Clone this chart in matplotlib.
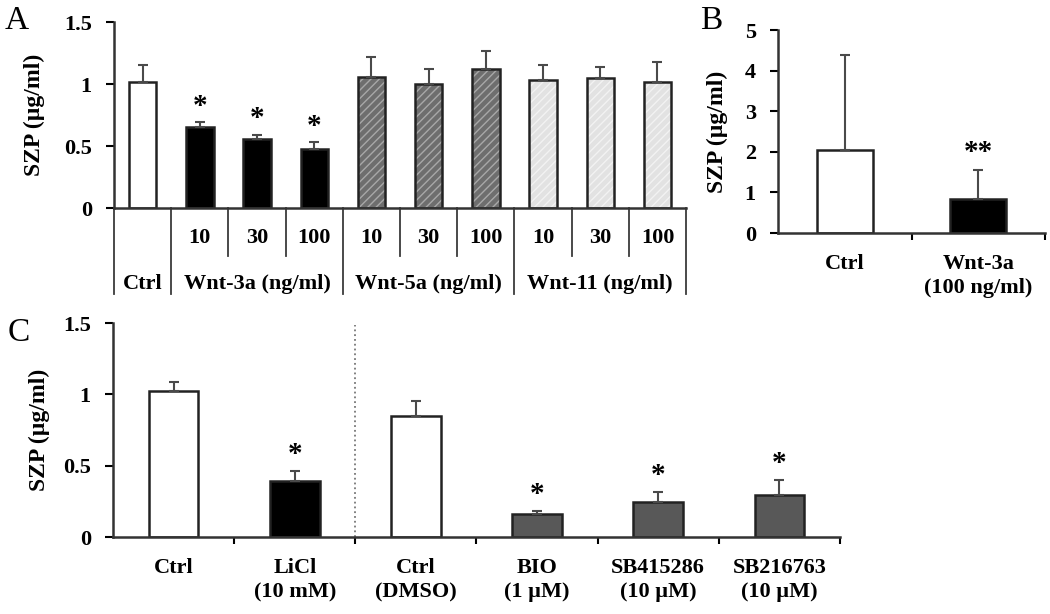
import matplotlib
matplotlib.use("Agg")
import matplotlib.pyplot as plt
from matplotlib.ticker import FormatStrFormatter
import matplotlib.transforms as mtransforms

plt.rcParams['font.family'] = ['Liberation Serif', 'DejaVu Serif']
plt.rcParams['font.weight'] = 'bold'

# panel A: Wnt ligands
a_vals = [1.02, 0.65, 0.56, 0.48, 1.06, 1.00, 1.12, 1.03, 1.05, 1.02]
a_err = [0.13, 0.04, 0.03, 0.05, 0.16, 0.12, 0.15, 0.12, 0.09, 0.16]
a_star = [False, True, True, True, False, False, False, False, False, False]
a_doses = ['', '10', '30', '100', '10', '30', '100', '10', '30', '100']
a_groups = ['Ctrl', 'Wnt-3a (ng/ml)', 'Wnt-5a (ng/ml)', 'Wnt-11 (ng/ml)']
a_group_span = [(0, 0), (1, 3), (4, 6), (7, 9)]

# panel B
b_labels = ['Ctrl', 'Wnt-3a\n(100 ng/ml)']
b_vals = [2.05, 0.85]
b_err = [2.33, 0.70]

# panel C
c_labels = ['Ctrl', 'LiCl\n(10 mM)', 'Ctrl\n(DMSO)', 'BIO\n(1 µM)',
            'SB415286\n(10 µM)', 'SB216763\n(10 µM)']
c_vals = [1.02, 0.395, 0.85, 0.158, 0.244, 0.295]
c_err = [0.07, 0.07, 0.10, 0.025, 0.07, 0.105]
c_star = [False, True, False, True, True, True]

fig = plt.figure(figsize=(10.5, 6.14), dpi=100)
errkw = dict(ecolor='#4a4a4a', elinewidth=1.5, capsize=3.5, capthick=1.5)


def style_axes(ax):
    for s in ['top', 'right']:
        ax.spines[s].set_visible(False)
    for s in ['left', 'bottom']:
        ax.spines[s].set_linewidth(1.8)
        ax.spines[s].set_color('#333333')
    ax.yaxis.set_major_formatter(FormatStrFormatter('%g'))
    ax.tick_params(axis='y', direction='out', length=6, width=1.5,
                   labelsize=16, pad=10)
    ax.tick_params(axis='x', which='major', length=0)
    ax.tick_params(axis='x', which='minor', direction='out', length=5, width=1.5)


# ---------------- A ----------------
axA = fig.add_axes([0.1086, 0.6612, 0.5448, 0.3029])
style_axes(axA)
xa = list(range(len(a_vals)))
a_face = ['white', 'black', 'black', 'black', '#6e6e6e', '#6e6e6e', '#6e6e6e',
          '#e2e2e2', '#e2e2e2', '#e2e2e2']
a_hatch = ['', '', '', '', '////', '////', '////', '////', '////', '////']
a_hcol = ['black', 'black', 'black', 'black', '#a8a8a8', '#a8a8a8', '#a8a8a8',
          '#f2f2f2', '#f2f2f2', '#f2f2f2']
axA.bar(xa, a_vals, width=0.48, color=a_face, hatch=a_hatch, edgecolor=a_hcol,
        linewidth=0)
axA.bar(xa, a_vals, width=0.48, color='none', edgecolor='#222222', linewidth=1.8,
        yerr=[[0] * len(a_err), a_err], error_kw=errkw)
for i, s in enumerate(a_star):
    if s:
        axA.text(i, a_vals[i] + a_err[i] + 0.02, '*', ha='center', va='bottom',
                 fontsize=21, fontweight='bold')
axA.set_xlim(-0.5, 9.5)
axA.set_ylim(0, 1.5)
axA.set_yticks([0, 0.5, 1, 1.5])
axA.set_xticks([])
axA.set_ylabel('SZP (µg/ml)', fontsize=17, fontweight='bold')
axA.yaxis.set_label_coords(-0.12, 0.5)

trA = mtransforms.blended_transform_factory(axA.transData, axA.transAxes)
# table below the axis
bounds = [-0.5 + k for k in range(11)]
group_edges = [-0.5, 0.5, 3.5, 6.5, 9.5]
for b in bounds:
    low = -0.46 if b in group_edges else -0.26
    axA.plot([b, b], [0, low], transform=trA, color='#3a3a3a', lw=1.3,
             clip_on=False)
for i, d in enumerate(a_doses):
    if d:
        axA.text(i, -0.16, d, transform=trA, ha='center', va='center',
                 fontsize=16, fontweight='bold')
for g, (lo, hi) in zip(a_groups, a_group_span):
    axA.text((lo + hi) / 2, -0.41, g, transform=trA, ha='center', va='center',
             fontsize=16, fontweight='bold')

# ---------------- B ----------------
axB = fig.add_axes([0.741, 0.6205, 0.2543, 0.3306])
style_axes(axB)
axB.bar([0, 1], b_vals, width=0.42, color=['white', 'black'], edgecolor='#222222',
        linewidth=1.8, yerr=[[0, 0], b_err], error_kw=errkw)
axB.text(1, b_vals[1] + b_err[1] + 0.1, '**', ha='center', va='bottom',
         fontsize=21, fontweight='bold')
axB.set_xlim(-0.5, 1.5)
axB.set_ylim(0, 5)
axB.set_yticks(range(6))
axB.set_xticks([0, 1])
axB.set_xticklabels(b_labels, fontsize=16, fontweight='bold', va='top',
                    linespacing=1.3)
axB.set_xticks([0.5, 1.5], minor=True)
axB.tick_params(axis='x', which='major', pad=15)
axB.set_ylabel('SZP (µg/ml)', fontsize=17, fontweight='bold')
axB.yaxis.set_label_coords(-0.187, 0.5)

# ---------------- C ----------------
axC = fig.add_axes([0.1076, 0.1254, 0.6924, 0.3485])
style_axes(axC)
xc = list(range(len(c_vals)))
c_face = ['white', 'black', 'white', '#585858', '#585858', '#585858']
axC.bar(xc, c_vals, width=0.41, color=c_face, edgecolor='#222222', linewidth=1.8,
        yerr=[[0] * len(c_err), c_err], error_kw=errkw)
for i, s in enumerate(c_star):
    if s:
        axC.text(i, c_vals[i] + c_err[i] + 0.02, '*', ha='center', va='bottom',
                 fontsize=21, fontweight='bold')
axC.axvline(1.5, ymin=0, ymax=0.99, color='#777777', lw=1.3, ls=':')
axC.set_xlim(-0.5, 5.5)
axC.set_ylim(0, 1.5)
axC.set_yticks([0, 0.5, 1, 1.5])
axC.set_xticks(xc)
axC.set_xticklabels(c_labels, fontsize=16, fontweight='bold', va='top',
                    linespacing=1.3)
axC.set_xticks([0.5, 1.5, 2.5, 3.5, 4.5, 5.5], minor=True)
axC.tick_params(axis='x', which='major', pad=15)
axC.set_ylabel('SZP (µg/ml)', fontsize=17, fontweight='bold')
axC.yaxis.set_label_coords(-0.087, 0.5)

# panel letters
fig.text(5 / 1050, 1 - 21 / 614, 'A', fontsize=24, fontweight='normal', va='center')
fig.text(700 / 1050, 1 - 21 / 614, 'B', fontsize=24, fontweight='normal', va='center')
fig.text(8 / 1050, 1 - 333 / 614, 'C', fontsize=24, fontweight='normal', va='center')

fig.savefig('out.png', dpi=100)
